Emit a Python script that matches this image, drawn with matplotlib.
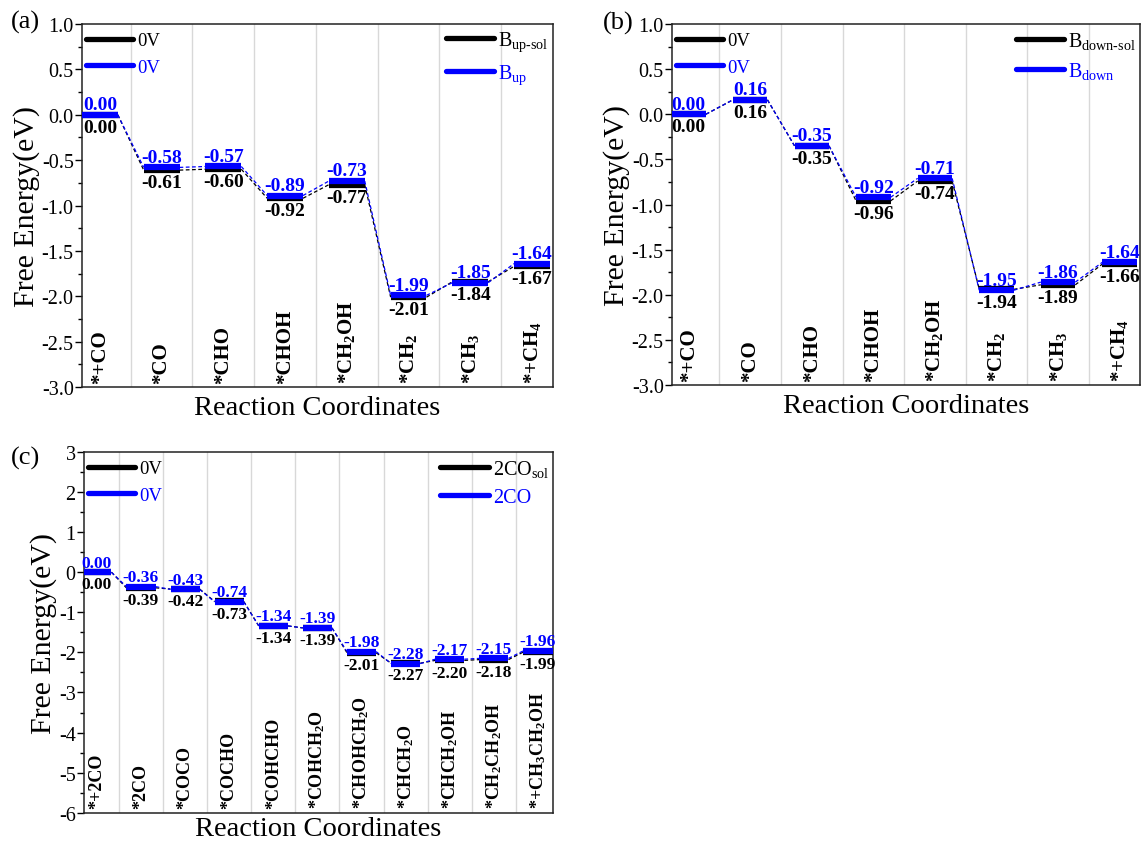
import matplotlib
matplotlib.use("Agg")
import matplotlib.pyplot as plt
from matplotlib.lines import Line2D
import matplotlib.ticker as ticker

# ── FONTS ─────────────────────────────────────────────────────────────────────
plt.rcParams["font.family"] = "Liberation Serif"
plt.rcParams["mathtext.fontset"] = "custom"
plt.rcParams["mathtext.rm"] = "Liberation Serif"
plt.rcParams["mathtext.it"] = "Liberation Serif:italic"
plt.rcParams["mathtext.bf"] = "Liberation Serif:bold"
plt.rcParams["axes.unicode_minus"] = False

# ── DATA ──────────────────────────────────────────────────────────────────────
steps_c1 = ["*+CO", "*CO", "*CHO", "*CHOH", r"*CH$_\mathbf{2}$OH",
            r"*CH$_\mathbf{2}$", r"*CH$_\mathbf{3}$", r"*+CH$_\mathbf{4}$"]

a_sol = [0.00, -0.61, -0.60, -0.92, -0.77, -2.01, -1.84, -1.67]   # B_up-sol
a_vac = [0.00, -0.58, -0.57, -0.89, -0.73, -1.99, -1.85, -1.64]   # B_up

b_sol = [0.00, 0.16, -0.35, -0.96, -0.74, -1.94, -1.89, -1.66]    # B_down-sol
b_vac = [0.00, 0.16, -0.35, -0.92, -0.71, -1.95, -1.86, -1.64]    # B_down

steps_c2 = ["*+2CO", "*2CO", "*COCO", "*COCHO", "*COHCHO",
            r"*COHCH$_\mathbf{2}$O", r"*CHOHCH$_\mathbf{2}$O", r"*CHCH$_\mathbf{2}$O",
            r"*CHCH$_\mathbf{2}$OH", r"*CH$_\mathbf{2}$CH$_\mathbf{2}$OH",
            r"*+CH$_\mathbf{3}$CH$_\mathbf{2}$OH"]

c_sol = [0.00, -0.39, -0.42, -0.73, -1.34, -1.39, -2.01, -2.27, -2.20, -2.18, -1.99]  # 2CO_sol
c_vac = [0.00, -0.36, -0.43, -0.74, -1.34, -1.39, -1.98, -2.28, -2.17, -2.15, -1.96]  # 2CO

# ── COLOURS ───────────────────────────────────────────────────────────────────
C_SOL = "black"
C_VAC = "#0000ff"
C_GRID = "#d8d8d8"


def draw_panel(ax, steps, sol, vac, names, ylim, major, fmt,
               width, lab_fs, cat_fs, xpad, xlpad):
    n = len(steps)
    xs = list(range(1, n + 1))

    # separators between steps
    for i in range(1, n):
        ax.axvline(i + 0.5, color=C_GRID, linewidth=1.0, zorder=0)

    for vals, col in ((sol, C_SOL), (vac, C_VAC)):
        # dashed connectors
        for i in range(n - 1):
            ax.plot([xs[i] + width / 2, xs[i + 1] - width / 2],
                    [vals[i], vals[i + 1]], color=col, linestyle="--",
                    linewidth=0.9, dashes=(3, 2), zorder=2)
        # energy levels
        ax.hlines(vals, [x - width / 2 for x in xs], [x + width / 2 for x in xs],
                  colors=col, linewidth=4.5, zorder=3)

    # value labels
    for x, vs, vv in zip(xs, sol, vac):
        ax.annotate(f"{vv:.2f}", (x, vv), xytext=(0, 4), textcoords="offset points",
                    ha="center", va="baseline", fontsize=lab_fs,
                    fontweight="bold", color=C_VAC, zorder=4)
        ax.annotate(f"{vs:.2f}", (x, vs), xytext=(0, -3), textcoords="offset points",
                    ha="center", va="top", fontsize=lab_fs,
                    fontweight="bold", color=C_SOL, zorder=4)

    # step names, rotated inside the frame
    trans = ax.get_xaxis_transform()
    for x, s in zip(xs, steps):
        ax.text(x, 0.012, s, transform=trans, rotation=90, ha="center",
                va="bottom", fontsize=cat_fs, fontweight="bold")

    ax.set_xlim(1 - xpad[0], n + xpad[1])
    ax.set_ylim(*ylim)
    ax.set_xticks([])
    ax.yaxis.set_major_locator(ticker.MultipleLocator(major))
    ax.yaxis.set_minor_locator(ticker.AutoMinorLocator(2))
    ax.yaxis.set_major_formatter(ticker.FormatStrFormatter(fmt))
    ax.tick_params(axis="y", which="major", direction="out", length=5,
                   width=1.0, labelsize=14.5, pad=1)
    ax.tick_params(axis="y", which="minor", direction="out", length=3, width=1.0)
    for sp in ax.spines.values():
        sp.set_linewidth(1.1)
        sp.set_color("#222222")

    ax.set_ylabel("Free Energy(eV)", fontsize=21.5, labelpad=1)
    ax.set_xlabel("Reaction Coordinates", fontsize=20.5, labelpad=xlpad)

    # legends
    h = [Line2D([], [], color=C_SOL, linewidth=3.8, solid_capstyle="round"),
         Line2D([], [], color=C_VAC, linewidth=3.8, solid_capstyle="round")]
    leg1 = ax.legend(h, ["0V", "0V"], loc="upper left", bbox_to_anchor=(0.0, 0.988),
                     frameon=False, fontsize=13.5, handlelength=2.5,
                     handletextpad=0.25, labelspacing=0.5, borderaxespad=0,
                     borderpad=0.2, labelcolor=[C_SOL, C_VAC])
    ax.add_artist(leg1)
    ax.legend(h, names, loc="upper right", bbox_to_anchor=(1.0, 0.995),
              frameon=False, fontsize=14.5, handlelength=2.4,
              handletextpad=0.2, labelspacing=0.45, borderaxespad=0,
              borderpad=0.2, labelcolor=[C_SOL, C_VAC])


fig = plt.figure(figsize=(11.45, 8.45), dpi=100)
ax_a = fig.add_axes([0.0716, 0.5408, 0.4114, 0.4296])
ax_b = fig.add_axes([0.5869, 0.5432, 0.4087, 0.4272])
ax_c = fig.add_axes([0.0734, 0.0370, 0.4096, 0.4270])

draw_panel(ax_a, steps_c1, a_sol, a_vac,
           [r"B$_{\text{up-sol}}$", r"B$_{\mathrm{up}}$"],
           (-3.0, 1.0), 0.5, "%.1f", 0.58, 14, 15, (0.29, 0.34), 6)
draw_panel(ax_b, steps_c1, b_sol, b_vac,
           [r"B$_{\text{down-sol}}$", r"B$_{\mathrm{down}}$"],
           (-3.0, 1.0), 0.5, "%.1f", 0.56, 14, 15, (0.27, 0.33), 6)
draw_panel(ax_c, steps_c2, c_sol, c_vac,
           [r"2CO$_{\mathrm{sol}}$", "2CO"],
           (-6, 3), 1, "%d", 0.66, 12.5, 13, (0.29, 0.34), 2)

fig.text(0.0218, 0.974, "(a)", fontsize=19, ha="center", va="center")
fig.text(0.540, 0.972, "(b)", fontsize=19, ha="center", va="center")
fig.text(0.0227, 0.457, "(c)", fontsize=19, ha="center", va="center")

fig.savefig("out.png", dpi=100)
